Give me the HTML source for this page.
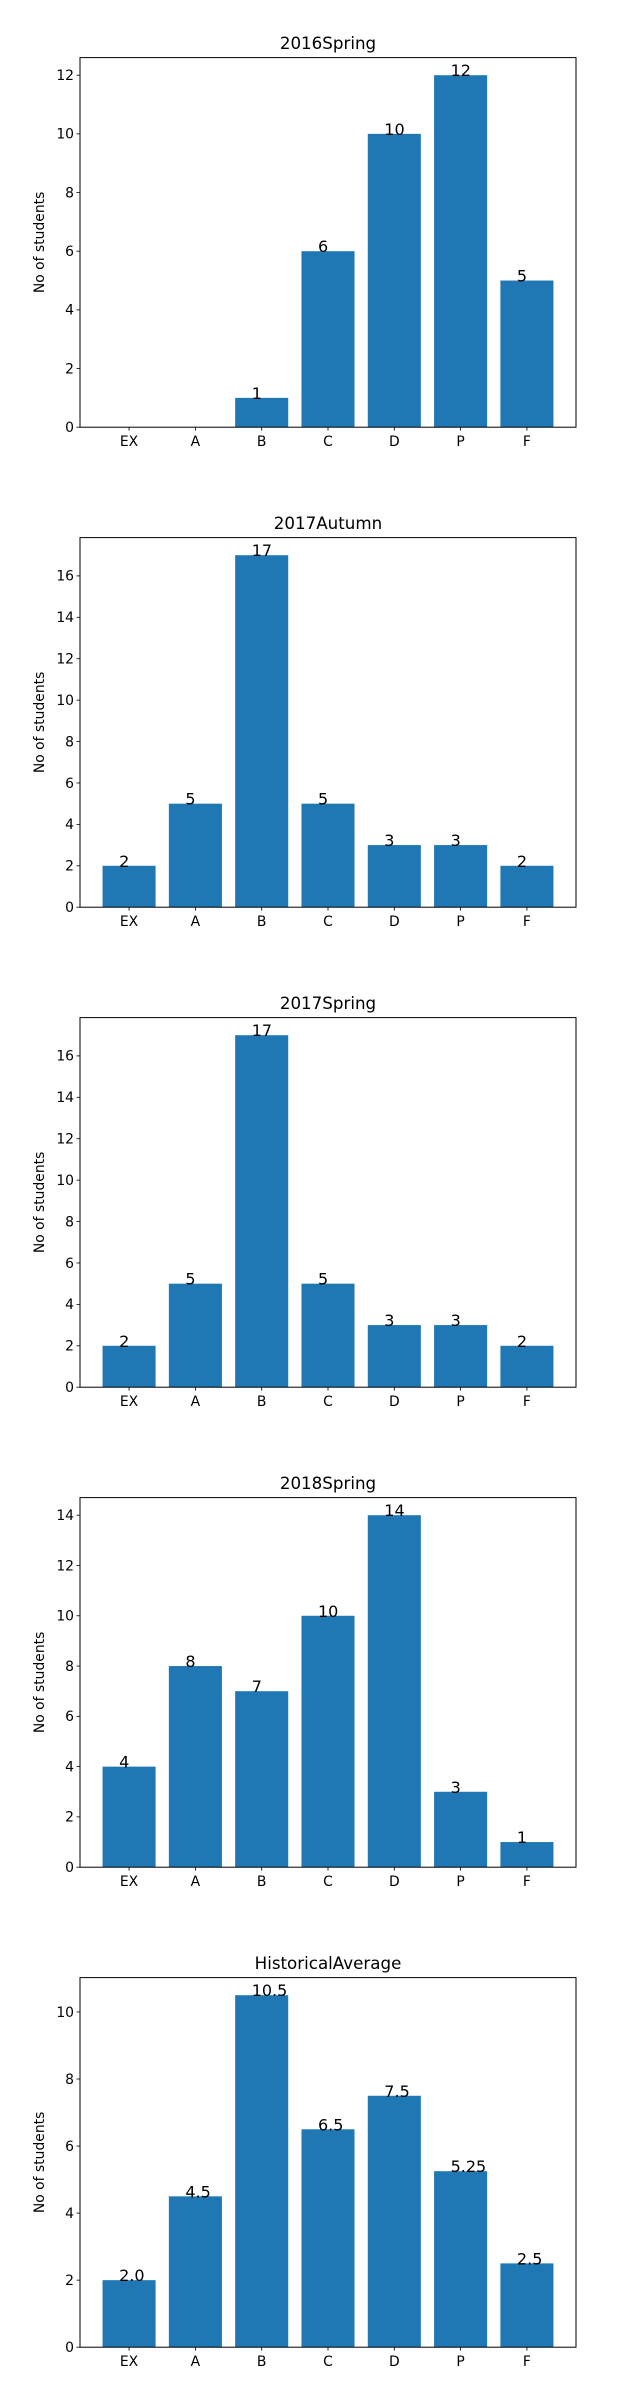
<!DOCTYPE html>
<html><head><meta charset="utf-8">
<style>
html,body{margin:0;padding:0;background:#fff;}
svg{display:block;font-family:"DejaVu Sans","Liberation Sans",sans-serif;}
</style></head>
<body>
<svg id="fig" width="640" height="2400" viewBox="0 0 640 2400" xmlns="http://www.w3.org/2000/svg"></svg>
<script>
const categories = ["EX","A","B","C","D","P","F"];
const titles = ["2016Spring","2017Autumn","2017Spring","2018Spring","HistoricalAverage"];
const values2016Spring = [0,0,1,6,10,12,5];
const values2017Autumn = [2,5,17,5,3,3,2];
const values2017Spring = [2,5,17,5,3,3,2];
const values2018Spring = [4,8,7,10,14,3,1];
const valuesHistorical = [2.0,4.5,10.5,6.5,7.5,5.25,2.5];
const labels2016Spring = ["","","1","6","10","12","5"];
const labels2017Autumn = ["2","5","17","5","3","3","2"];
const labels2017Spring = ["2","5","17","5","3","3","2"];
const labels2018Spring = ["4","8","7","10","14","3","1"];
const labelsHistorical = ["2.0","4.5","10.5","6.5","7.5","5.25","2.5"];
const yTicks2016Spring = [0,2,4,6,8,10,12];
const yTicks2017Autumn = [0,2,4,6,8,10,12,14,16];
const yTicks2017Spring = [0,2,4,6,8,10,12,14,16];
const yTicks2018Spring = [0,2,4,6,8,10,12,14];
const yTicksHistorical = [0,2,4,6,8,10];

const allValues = [values2016Spring,values2017Autumn,values2017Spring,values2018Spring,valuesHistorical];
const allLabels = [labels2016Spring,labels2017Autumn,labels2017Spring,labels2018Spring,labelsHistorical];
const allTicks = [yTicks2016Spring,yTicks2017Autumn,yTicks2017Spring,yTicks2018Spring,yTicksHistorical];

const NS = "http://www.w3.org/2000/svg";
const svg = document.getElementById("fig");
function mk(tag, attrs, parent){
  const e = document.createElementNS(NS, tag);
  for (const k in attrs) e.setAttribute(k, attrs[k]);
  parent.appendChild(e);
  return e;
}
const L = 80, R = 576, T = 57.6, B = 427.2;
titles.forEach((title, p) => {
  const vals = allValues[p], labs = allLabels[p], ticks = allTicks[p];
  const oy = p * 480;
  const g = mk("g", {transform: "translate(0," + oy + ")"}, svg);
  
  
  const ymax = Math.max(...vals) * 1.05;
  const xmin = -0.74, xmax = categories.length - 1 + 0.74;
  const xs = v => L + (v - xmin) / (xmax - xmin) * (R - L);
  const ys = v => B - v / ymax * (B - T);
  const t = mk("text", {x: 328, y: 49, "text-anchor": "middle", "font-size": "16.7", fill: "#000"}, g);
  t.textContent = title;
  
  
  vals.forEach((v, i) => {
    const r = mk("rect", {x: xs(i - 0.4), y: ys(v), width: xs(i + 0.4) - xs(i - 0.4), height: B - ys(v), fill: "#1f77b4"}, g);
    
    
    if (labs[i] !== "") {
      const lt = mk("text", {x: xs(i) - 10, y: ys(v) + 1, "font-size": "16", fill: "#000"}, g);
      lt.textContent = labs[i];
      
      
    }
  });
  const fr = mk("rect", {x: L, y: T, width: R - L, height: B - T, fill: "none", stroke: "#000", "stroke-width": "1"}, g);
  
  
  ticks.forEach(tv => {
    mk("line", {x1: L - 3.5, x2: L, y1: ys(tv), y2: ys(tv), stroke: "#000", "stroke-width": "0.8"}, g);
    const tt = mk("text", {x: L - 6, y: ys(tv) + 4.8, "text-anchor": "end", "font-size": "13.9", fill: "#000"}, g);
    tt.textContent = tv;
    
    
  });
  categories.forEach((c, i) => {
    mk("line", {x1: xs(i), x2: xs(i), y1: B, y2: B + 3.5, stroke: "#000", "stroke-width": "0.8"}, g);
    const ct = mk("text", {x: xs(i), y: B + 19, "text-anchor": "middle", "font-size": "13.9", fill: "#000"}, g);
    ct.textContent = c;
    
    
  });
  const yl = mk("text", {x: 0, y: 0, transform: "translate(44," + ((T + B) / 2) + ") rotate(-90)", "text-anchor": "middle", "font-size": "13.9", fill: "#000"}, g);
  yl.textContent = "No of students";
  
  
});
</script>
</body></html>
